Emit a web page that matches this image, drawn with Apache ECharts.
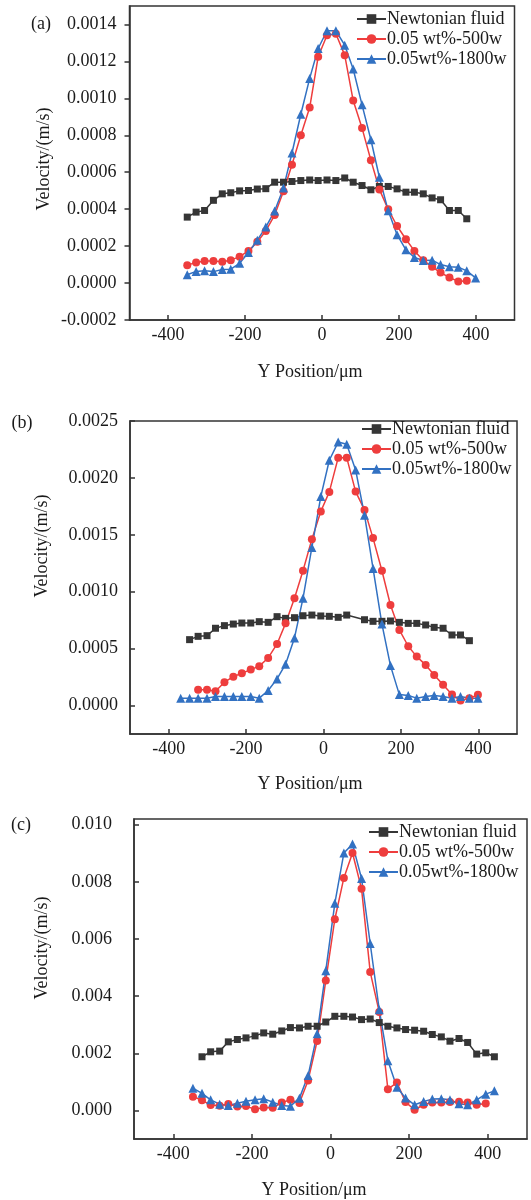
<!DOCTYPE html>
<html>
<head>
<meta charset="utf-8">
<script src="https://cdn.jsdelivr.net/npm/echarts@6/dist/echarts.min.js"></script>
<style>
  html, body { margin: 0; padding: 0; background: #fff; }
  #chart { width: 531px; height: 1200px; }
</style>
</head>
<body>
<div id="chart"></div>
<script>
// Y position grids (um), one per panel
const xA = [-350,-327,-305,-282,-259,-237,-214,-191,-168,-146,-123,-100,-78,-55,-32,-10,13,36,59,81,104,127,149,172,195,218,240,263,286,308,331,354,376,399];
const xB = [-369,-346,-324,-301,-279,-256,-233,-211,-188,-166,-143,-120,-98,-75,-53,-30,-7,15,38,60,83,106,128,151,173,196,219,241,264,286,309,332,354,377,399];
const xC = [-350,-327,-305,-282,-260,-237,-215,-192,-170,-147,-124,-102,-79,-57,-34,-12,11,34,56,79,101,124,146,169,191,214,237,259,282,304,327,349,372,395,417];

// panel (a) velocities (m/s)
const newtA = [0.000357,0.000384,0.000393,0.000448,0.000483,0.000489,0.000499,0.000501,0.000509,0.000511,0.000546,0.000546,0.00055,0.000555,0.000558,0.000555,0.000558,0.000555,0.000569,0.000546,0.000528,0.000505,0.000523,0.000523,0.00051,0.000492,0.000492,0.000483,0.000461,0.000451,0.000393,0.000393,0.000348,null];
const w500A = [0.000097,0.000111,0.00012,0.00012,0.000115,0.000124,0.000143,0.000174,0.000223,0.000282,0.000368,0.000497,0.000641,0.0008,0.00095,0.001225,0.001342,0.00135,0.001234,0.000988,0.000839,0.000665,0.000507,0.000399,0.000309,0.000237,0.000174,0.000124,0.000088,0.000057,0.00003,0.000009,0.000012,null];
const w1800A = [0.000045,0.000063,0.000066,0.000062,0.000073,0.000075,0.000107,0.000165,0.000232,0.000303,0.00039,0.000515,0.000704,0.000914,0.001108,0.00127,0.001366,0.001366,0.001288,0.001159,0.000965,0.000776,0.000573,0.000391,0.000262,0.00018,0.000138,0.000122,0.000124,0.0001,0.000088,0.000086,0.000066,0.000028];

// panel (b)
const newtB = [null,0.000579,0.000608,0.000614,0.000679,0.000702,0.000716,0.000725,0.000725,0.000737,0.000731,0.000781,0.000766,0.000772,0.000789,0.000795,0.000787,0.000784,0.000775,0.000795,null,0.000754,0.00074,0.00074,0.000743,0.000731,0.000722,0.000722,0.000708,0.000687,0.000679,0.00062,0.00062,0.00057,null];
const w500B = [null,null,0.000138,0.000138,0.000126,0.000205,0.000254,0.000284,0.000316,0.000346,0.000418,0.000541,0.000722,0.000942,0.001184,0.001462,0.001705,0.001877,0.002178,0.002178,0.00188,0.001719,0.001471,0.001184,0.000883,0.000664,0.000521,0.00043,0.000357,0.000269,0.000182,0.000096,0.000044,0.000065,0.000094];
const w1800B = [0.000065,0.000065,0.000065,0.000065,0.000079,0.000079,0.000079,0.000079,0.000079,0.000065,0.000132,0.000234,0.000363,0.000594,0.000942,0.001389,0.001836,0.002155,0.002315,0.002295,0.00207,0.001672,0.001205,0.000716,0.000351,0.000096,0.000088,0.000065,0.000079,0.000088,0.000079,0.000065,0.000079,0.000065,0.000065];

// panel (c)
const newtC = [null,0.001878,0.002052,0.002076,0.0024,0.002483,0.002539,0.002609,0.002713,0.002668,0.002782,0.0029,0.002887,0.002946,0.002946,0.003095,0.003294,0.003294,0.003269,0.003179,0.0032,0.003075,0.002946,0.002887,0.002831,0.002807,0.002772,0.002657,0.002574,0.002424,0.002518,0.002379,0.001972,0.002017,0.001878];
const w500C = [0.000476,0.00036,0.000186,0.000168,0.000228,0.000139,0.000151,0.000037,0.000104,0.000094,0.000274,0.000372,0.000257,0.00105,0.00243,0.004545,0.006691,0.008139,0.009008,0.007756,0.004847,0.003443,0.000743,0.000974,0.000292,0.000024,0.000198,0.000278,0.000278,0.000292,0.000303,0.000278,0.000198,0.000244,null];
const w1800C = [0.00078,0.0006,0.00037,0.00022,0.00017,0.00025,0.00032,0.00037,0.00041,0.00029,0.00017,0.00015,0.00043,0.00122,0.00268,0.00489,0.007248,0.009008,0.009321,0.008118,0.005843,0.003527,0.001739,0.000814,0.000431,0.000198,0.000313,0.000396,0.000407,0.000372,0.000233,0.000198,0.000372,0.00057,0.000685];

const xTicks = [-400, -200, 0, 200, 400];
const yTicksA = [-0.0002, 0, 0.0002, 0.0004, 0.0006, 0.0008, 0.001, 0.0012, 0.0014];
const yTicksB = [0, 0.0005, 0.001, 0.0015, 0.002, 0.0025];
const yTicksC = [0, 0.002, 0.004, 0.006, 0.008, 0.01];

const names = ["Newtonian fluid", "0.05 wt%-500w", "0.05wt%-1800w"];
const colors = ["#363636", "#EE3D3D", "#3271C2"];
const symbols = ["rect", "circle", "triangle"];
const symSizes = [7, 8, 9];
const font = "Liberation Serif";
const frame = "#333";

const pairs = (xs, ys) => xs.map((x, i) => [x, ys[i]]).filter((p) => p[1] !== null);

const panels = [
  { xs: xA, ys: [newtA, w500A, w1800A], ticks: yTicksA, dec: 4, min: -0.0002, max: 0.0015,
    grid: { left: 129.5, top: 6, width: 385, height: 314 }, tickInside: false, margin: 13, legend: { left: 356, top: 10 } },
  { xs: xB, ys: [newtB, w500B, w1800B], ticks: yTicksB, dec: 4, min: -0.00025, max: 0.0025,
    grid: { left: 130, top: 421, width: 387, height: 313 }, tickInside: true, margin: 12, legend: { left: 361, top: 420 } },
  { xs: xC, ys: [newtC, w500C, w1800C], ticks: yTicksC, dec: 3, min: -0.001, max: 0.0102,
    grid: { left: 134, top: 819, width: 393, height: 320 }, tickInside: true, margin: 22, legend: { left: 368, top: 823 } },
];

const grids = [], xAxes = [], yAxes = [], series = [], legends = [];
panels.forEach((p, gi) => {
  grids.push({ ...p.grid, show: true, borderColor: frame, borderWidth: 1.5, backgroundColor: "transparent" });
  xAxes.push({
    type: "value", gridIndex: gi, min: -500, max: 500,
    axisLine: { show: true, onZero: false, lineStyle: { color: frame, width: 1.5 } },
    axisTick: { show: true, inside: true, length: 5, customValues: xTicks, lineStyle: { color: frame, width: 1.5 } },
    axisLabel: { customValues: xTicks, margin: 6, fontFamily: font, fontSize: 18, color: "#1a1a1a" },
    splitLine: { show: false },
  });
  yAxes.push({
    type: "value", gridIndex: gi, min: p.min, max: p.max,
    axisLine: { show: true, onZero: false, lineStyle: { color: frame, width: 1.5 } },
    axisTick: { show: true, inside: p.tickInside, length: 5, customValues: p.ticks, lineStyle: { color: frame, width: 1.5 } },
    axisLabel: {
      customValues: p.ticks, margin: p.margin, fontFamily: font, fontSize: 18, color: "#1a1a1a",
      formatter: (v) => v.toFixed(p.dec),
    },
    splitLine: { show: false },
  });
  p.ys.forEach((ys, si) => {
    series.push({
      name: names[si], type: "line", xAxisIndex: gi, yAxisIndex: gi,
      data: pairs(p.xs, ys),
      symbol: symbols[si], symbolSize: symSizes[si], showSymbol: true,
      lineStyle: { color: colors[si], width: 1.5 },
      itemStyle: { color: colors[si], borderWidth: 0 },
      animation: false,
    });
  });
  legends.push({
    orient: "vertical", left: p.legend.left, top: p.legend.top, padding: 0,
    itemWidth: 29, itemHeight: 12, itemGap: 2,
    textStyle: { fontFamily: font, fontSize: 18, color: "#1a1a1a", padding: [0, 0, 0, -4] },
    data: names, selectedMode: false,
  });
});

const txt = (text, x, y, rot) => ({
  type: "text", x: x, y: y, rotation: rot || 0,
  style: { text: text, font: "18px " + font, fill: "#1a1a1a", align: "center", verticalAlign: "middle" },
});

const graphics = [
  txt("(a)", 41, 24), txt("(b)", 22, 423), txt("(c)", 21, 825),
  txt("Velocity/(m/s)", 44, 159, Math.PI / 2),
  txt("Velocity/(m/s)", 42, 546, Math.PI / 2),
  txt("Velocity/(m/s)", 42, 948, Math.PI / 2),
  txt("Y Position/μm", 310, 372), txt("Y Position/μm", 310, 784), txt("Y Position/μm", 314, 1190),
];

const chart = echarts.init(document.getElementById("chart"), null, { renderer: "canvas" });
chart.setOption({
  animation: false,
  backgroundColor: "#fff",
  grid: grids, xAxis: xAxes, yAxis: yAxes, series: series, legend: legends,
  graphic: graphics,
});
</script>
</body>
</html>
